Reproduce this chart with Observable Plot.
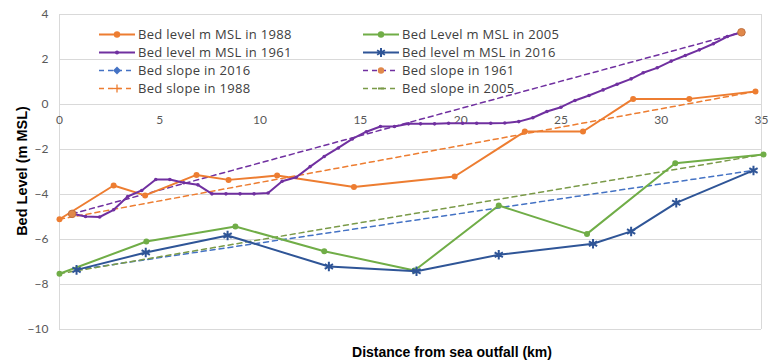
<!DOCTYPE html>
<html>
<head>
<meta charset="utf-8">
<script src="https://cdn.jsdelivr.net/npm/d3@7"></script>
<script src="https://cdn.jsdelivr.net/npm/@observablehq/plot@0.6"></script>
<style>
  html, body { margin: 0; padding: 0; background: #fff; }
  #wrap { position: relative; width: 769px; height: 361px; overflow: hidden; background: #fff; }
  #chart { position: absolute; left: 0; top: 0; }
  .ytitle { position: absolute; left: 22px; top: 171px; transform: translate(-50%, -50%) rotate(-90deg);
            font: bold 14.5px "Liberation Sans", Arial, sans-serif; color: #000; white-space: nowrap; }
  .xtitle { position: absolute; left: 452px; top: 352px; transform: translate(-50%, -50%);
            font: bold 14px "Liberation Sans", Arial, sans-serif; color: #000; white-space: nowrap; }
  .leg { position: absolute; display: flex; align-items: center; height: 15px; font: 13px "Open Sans", Lato, sans-serif; letter-spacing: 0.3px; line-height: 15px; color: #404040; white-space: nowrap; }
  .leg svg { margin-right: 3px; display: block; }
  .leg span { display: block; line-height: 15px; height: 15px; }
</style>
</head>
<body>
<div id="wrap">
  <div id="chart"></div>
  <div class="ytitle">Bed Level (m MSL)</div>
  <div class="xtitle">Distance from sea outfall (km)</div>
</div>
<script>
// Tick values
const xTicks = [0, 5, 10, 15, 20, 25, 30, 35];
const yTicks = [-10, -8, -6, -4, -2, 0, 2, 4];

// Bed level 1988
const km1988 = [0, 2.7, 4.27, 6.83, 8.43, 10.85, 14.68, 19.7, 23.2, 26.1, 28.6, 31.4, 34.7];
const lvl1988 = [-5.1, -3.6, -4.04, -3.13, -3.35, -3.16, -3.67, -3.2, -1.2, -1.2, 0.25, 0.25, 0.58];

// Bed level 1961
const km1961 = [0.63, 1.3, 2.0, 2.7, 3.4, 4.1, 4.8, 5.5, 6.2, 6.9, 7.6, 8.3, 9.0, 9.7, 10.4, 11.1, 11.8, 12.5,
  13.2, 13.9, 14.6, 15.3, 16.0, 16.7, 17.4, 18.0, 18.7, 19.4, 20.1, 20.8, 21.5, 22.2, 22.9, 23.6, 24.3, 25.0,
  25.7, 26.4, 27.1, 27.8, 28.5, 29.1, 29.8, 30.5, 31.2, 31.9, 32.6, 33.3, 34.0];
const lvl1961 = [-4.86, -4.98, -5.0, -4.68, -4.09, -3.82, -3.33, -3.33, -3.48, -3.57, -3.97, -3.97, -3.97, -3.97,
  -3.93, -3.41, -3.23, -2.76, -2.31, -1.93, -1.53, -1.21, -0.98, -0.98, -0.86, -0.86, -0.86, -0.83, -0.83, -0.83,
  -0.83, -0.82, -0.76, -0.59, -0.31, -0.12, 0.18, 0.4, 0.65, 0.9, 1.14, 1.41, 1.63, 1.93, 2.18, 2.43, 2.7, 3.02, 3.21];

// Bed level 2005
const km2005 = [0, 4.33, 8.77, 13.2, 17.7, 21.9, 26.3, 30.7, 35.1];
const lvl2005 = [-7.52, -6.09, -5.42, -6.52, -7.38, -4.49, -5.75, -2.61, -2.22];

// Bed level 2016
const km2016 = [0.85, 4.3, 8.38, 13.43, 17.8, 21.9, 26.6, 28.5, 30.75, 34.6];
const lvl2016 = [-7.35, -6.58, -5.82, -7.2, -7.41, -6.68, -6.19, -5.64, -4.37, -2.93];

// Bed slopes (end points)
const slopeKm2016 = [0.85, 34.6];   const slope2016 = [-7.35, -2.93];
const slopeKm1961 = [0.63, 34.0];   const slope1961 = [-4.86, 3.21];
const slopeKm1988 = [0, 34.7];      const slope1988 = [-5.1, 0.58];
const slopeKm2005 = [0, 35.1];      const slope2005 = [-7.52, -2.22];

// Colors & labels
const cOrange = "#ED7D31", cPurple = "#7030A0", cGreen = "#70AD47", cBlue = "#2F5597", cBlueLight = "#4472C4", cGreenDash = "#7A9A48";
const seriesLabels = ["Bed level m MSL in 1988", "Bed Level m MSL in 2005", "Bed level m MSL in 1961", "Bed level m MSL in 2016",
  "Bed slope in 2016", "Bed slope in 1961", "Bed slope in 1988", "Bed slope in 2005"];

const pts = (xs, ys) => xs.map((x, i) => ({x, y: ys[i]}));
const d1988 = pts(km1988, lvl1988), d1961 = pts(km1961, lvl1961), d2005 = pts(km2005, lvl2005), d2016 = pts(km2016, lvl2016);
const s2016 = pts(slopeKm2016, slope2016), s1961 = pts(slopeKm1961, slope1961), s1988 = pts(slopeKm1988, slope1988), s2005 = pts(slopeKm2005, slope2005);

const dash = "5,4";
const chart = Plot.plot({
  width: 769, height: 340,
  marginLeft: 59, marginRight: 8, marginTop: 14, marginBottom: 11,
  x: {domain: [0, 35], axis: null},
  y: {domain: [-10, 4], axis: null},
  style: {fontFamily: "Lato, 'Open Sans', sans-serif", background: "#fff"},
  marks: [
    Plot.ruleY(yTicks, {stroke: "#d9d9d9", strokeWidth: 1}),
    Plot.ruleX([0, 35], {stroke: "#d9d9d9", strokeWidth: 1}),
    Plot.axisY(yTicks, {tickSize: 0, tickPadding: 11, fontSize: 12, color: "#595959", label: null}),
    Plot.text(xTicks, {x: d => d, y: () => 0, dy: 16, text: d => String(d), fontSize: 12, fill: "#595959"}),
    // slopes
    Plot.line(s2016, {x: "x", y: "y", stroke: cBlueLight, strokeWidth: 1.5, strokeDasharray: dash}),
    Plot.line(s1961, {x: "x", y: "y", stroke: cPurple, strokeWidth: 1.5, strokeDasharray: dash}),
    Plot.line(s1988, {x: "x", y: "y", stroke: cOrange, strokeWidth: 1.5, strokeDasharray: dash}),
    Plot.line(s2005, {x: "x", y: "y", stroke: cGreenDash, strokeWidth: 1.5, strokeDasharray: dash}),
    // bed levels
    Plot.line(d1988, {x: "x", y: "y", stroke: cOrange, strokeWidth: 2}),
    Plot.dot(d1988, {x: "x", y: "y", fill: cOrange, r: 3}),
    Plot.line(d2005, {x: "x", y: "y", stroke: cGreen, strokeWidth: 2}),
    Plot.dot(d2005, {x: "x", y: "y", fill: cGreen, r: 3}),
    Plot.line(d1961, {x: "x", y: "y", stroke: cPurple, strokeWidth: 2}),
    Plot.dot(d1961, {x: "x", y: "y", fill: cPurple, r: 1.8}),
    Plot.line(d2016, {x: "x", y: "y", stroke: cBlue, strokeWidth: 2}),
    Plot.dot(d2016, {x: "x", y: "y", stroke: cBlue, symbol: "asterisk", r: 4.5, strokeWidth: 2}),
    Plot.dot(s1961, {x: "x", y: "y", fill: "#E0884A", stroke: "#C07040", r: 3.8, strokeWidth: 1})
  ]
});
document.getElementById("chart").appendChild(chart);

// Legend (HTML overlay inside the plot area)
const legendSpec = [
  {label: seriesLabels[0], color: cOrange, dashed: false, marker: "dot", mc: cOrange, left: 99, top: 34.5},
  {label: seriesLabels[1], color: cGreen, dashed: false, marker: "dot", mc: cGreen, left: 363, top: 34.5},
  {label: seriesLabels[2], color: cPurple, dashed: false, marker: "small", mc: cPurple, left: 99, top: 52.4},
  {label: seriesLabels[3], color: cBlue, dashed: false, marker: "asterisk", mc: cBlue, left: 363, top: 52.4},
  {label: seriesLabels[4], color: cBlueLight, dashed: true, marker: "diamond", mc: cBlueLight, left: 99, top: 70.2},
  {label: seriesLabels[5], color: cPurple, dashed: true, marker: "dot", mc: "#E0884A", left: 363, top: 70.2},
  {label: seriesLabels[6], color: cOrange, dashed: true, marker: "plus", mc: cOrange, left: 99, top: 88},
  {label: seriesLabels[7], color: cGreenDash, dashed: true, marker: "dash", mc: cGreenDash, left: 363, top: 88}
];
const wrap = document.getElementById("wrap");
for (const s of legendSpec) {
  const div = document.createElement("div");
  div.className = "leg";
  div.style.left = s.left + "px";
  div.style.top = (s.top - 7.5) + "px";
  let m = "";
  if (s.marker === "dot") m = `<circle cx="18" cy="7.5" r="3.2" fill="${s.mc}"/>`;
  else if (s.marker === "small") m = `<circle cx="18" cy="7.5" r="2" fill="${s.mc}"/>`;
  else if (s.marker === "asterisk") m = `<g stroke="${s.mc}" stroke-width="2"><line x1="18" y1="3" x2="18" y2="12"/><line x1="14.1" y1="5.25" x2="21.9" y2="9.75"/><line x1="14.1" y1="9.75" x2="21.9" y2="5.25"/></g>`;
  else if (s.marker === "diamond") m = `<path d="M18 3.5 L22 7.5 L18 11.5 L14 7.5 Z" fill="${s.mc}"/>`;
  else if (s.marker === "plus") m = `<g stroke="${s.mc}" stroke-width="1.3"><line x1="18" y1="3.5" x2="18" y2="11.5"/><line x1="14" y1="7.5" x2="22" y2="7.5"/></g>`;
  else if (s.marker === "dash") m = `<line x1="15" y1="7.5" x2="21" y2="7.5" stroke="${s.mc}" stroke-width="2"/>`;
  div.innerHTML = `<svg width="36" height="15"><line x1="0" y1="7.5" x2="36" y2="7.5" stroke="${s.color}" stroke-width="${s.dashed ? 1.5 : 2}" ${s.dashed ? 'stroke-dasharray="5,4"' : ''}/>${m}</svg><span>${s.label}</span>`;
  wrap.appendChild(div);
}
</script>
</body>
</html>
